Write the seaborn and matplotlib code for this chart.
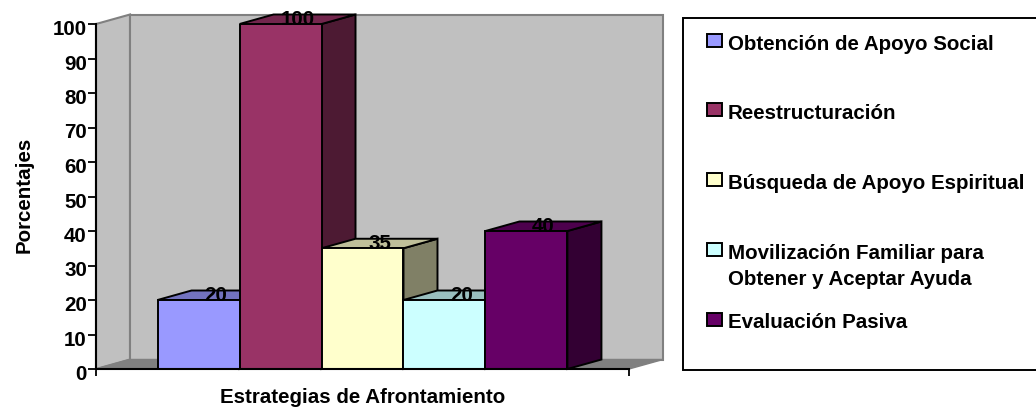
#!/usr/bin/env python3
# -*- coding: utf-8 -*-
"""
Barras con efecto 3D: estrategias de afrontamiento
"""

import pandas as pd
import matplotlib
matplotlib.use('Agg')
import matplotlib.pyplot as plt
import matplotlib.colors as mcolors
from matplotlib.patches import Polygon, Rectangle
from matplotlib.transforms import ScaledTranslation
import seaborn as sns

estrategias = ['Obtención de Apoyo Social', 'Reestructuración', 'Búsqueda de Apoyo Espiritual',
               'Movilización Familiar para\nObtener y Aceptar Ayuda', 'Evaluación Pasiva']
porcentajes = [20, 100, 35, 20, 40]
colores = ['#9999FF', '#993366', '#FFFFCC', '#CCFFFF', '#660066']
y_ticks = list(range(0, 101, 10))

W, H = 1036, 410
AX_L, AX_R, AX_T, AX_B = 96, 629, 25, 370
LETRA = 14.8

sns.set_style("white")
plt.rcParams['font.family'] = ['Liberation Sans', 'DejaVu Sans']
plt.rcParams['font.weight'] = 'bold'
plt.rcParams['text.color'] = 'black'
plt.rcParams['axes.labelcolor'] = 'black'
plt.rcParams['xtick.color'] = 'black'
plt.rcParams['ytick.color'] = 'black'

df = pd.DataFrame({'grupo': [''] * len(estrategias), 'estrategia': estrategias, 'valor': porcentajes})

fig = plt.figure(figsize=(W / 100, H / 100), dpi=100, facecolor='white')
ax = fig.add_axes([AX_L / W, 1 - AX_B / H, (AX_R - AX_L) / W, (AX_B - AX_T) / H])
ax.patch.set_alpha(0)

sns.barplot(data=df, x='grupo', y='valor', hue='estrategia', hue_order=estrategias,
            palette=colores, width=0.769, gap=0, edgecolor='black', linewidth=1.4,
            saturation=1, legend=False, ax=ax)
ax.set_xlim(-0.5, 0.5)
ax.set_ylim(0, 100)

# profundidad en unidades de datos
dx = 34 / (AX_R - AX_L)
dy = 9.5 / (AX_B - AX_T) * 100
GRIS = '#808080'


def poligono(puntos, cara, borde, zorder, lw=1.4):
    ax.add_patch(Polygon(puntos, closed=True, facecolor=cara, edgecolor=borde, linewidth=lw,
                         zorder=zorder, clip_on=False, joinstyle='miter'))


# paredes y suelo
poligono([(-0.5, 0), (-0.5 + dx, dy), (-0.5 + dx, 100 + dy), (-0.5, 100)], '#C0C0C0', GRIS, 1, 1.5)
poligono([(-0.5 + dx, dy), (0.5 + dx, dy), (0.5 + dx, 100 + dy), (-0.5 + dx, 100 + dy)], '#C0C0C0', GRIS, 1, 1.5)
poligono([(-0.5, 0), (0.5, 0), (0.5 + dx, dy), (-0.5 + dx, dy)], GRIS, GRIS, 1, 1.0)

# caras laterales y superiores, de izquierda a derecha
barras = [b for c in ax.containers for b in c]
for i, (b, color, valor) in enumerate(zip(barras, colores, porcentajes)):
    x0, x1 = b.get_x(), b.get_x() + b.get_width()
    rgb = mcolors.to_rgb(color)
    lateral = tuple(c * 0.5 for c in rgb)
    superior = tuple(c * 0.75 for c in rgb)
    z = 10 + i * 3
    poligono([(x1, 0), (x1 + dx, dy), (x1 + dx, valor + dy), (x1, valor)], lateral, 'black', z)
    poligono([(x0, valor), (x0 + dx, valor + dy), (x1 + dx, valor + dy), (x1, valor)], superior, 'black', z + 1)
    b.set_zorder(z + 2)
    ax.text((x0 + x1) / 2 + dx / 2, valor + dy * 0.62, str(valor), ha='center', va='center',
            fontsize=LETRA, fontweight='bold', color='black', zorder=50, clip_on=False)

# ejes
for lado in ['top', 'right']:
    ax.spines[lado].set_visible(False)
for lado in ['left', 'bottom']:
    ax.spines[lado].set_linewidth(1.5)
    ax.spines[lado].set_color('black')
    ax.spines[lado].set_zorder(60)

ax.set_yticks(y_ticks)
ax.set_xticks([-0.5, 0.5])
ax.set_xticklabels(['', ''])
ax.tick_params(axis='y', left=True, length=6, width=1.3, color='black', labelsize=LETRA, pad=0.5)
ax.tick_params(axis='x', bottom=True, length=5, width=1.3, color='black')
# las etiquetas del eje y quedan un poco por debajo de su marca
bajar = ScaledTranslation(0, -2.5 / 100, fig.dpi_scale_trans)
for t in ax.get_yticklabels():
    t.set_transform(t.get_transform() + bajar)
ax.set_xlabel('Estrategias de Afrontamiento', fontsize=LETRA, fontweight='bold')
ax.set_ylabel('Porcentajes', fontsize=LETRA, fontweight='bold')
ax.xaxis.set_label_coords(0.5, -(398 - AX_B) / (AX_B - AX_T), transform=ax.transAxes)
ax.yaxis.set_label_coords((24 - AX_L) / (AX_R - AX_L), (AX_B - 194.5) / (AX_B - AX_T), transform=ax.transAxes)
ax.xaxis.label.set_verticalalignment('center')
ax.yaxis.label.set_verticalalignment('center')

# leyenda a mano: marcadores a paso fijo, alineados con la primera linea
fig.add_artist(Rectangle((683 / W, 1 - 371 / H), 400 / W, 352 / H, transform=fig.transFigure,
                         facecolor='white', edgecolor='black', linewidth=1.4, zorder=0))
for i, (nombre, color) in enumerate(zip(estrategias, colores)):
    yc = 41 + i * 69.75
    fig.add_artist(Rectangle((707 / W, 1 - (yc + 6.5) / H), 15 / W, 13 / H, transform=fig.transFigure,
                             facecolor=color, edgecolor='black', linewidth=1.4, zorder=2))
    for j, linea in enumerate(nombre.split('\n')):
        fig.text(728 / W, 1 - (yc + 1 + j * 26) / H, linea, fontsize=LETRA, fontweight='bold',
                 ha='left', va='center_baseline', color='black', zorder=3)

plt.savefig('out.png', dpi=100)
plt.close()
